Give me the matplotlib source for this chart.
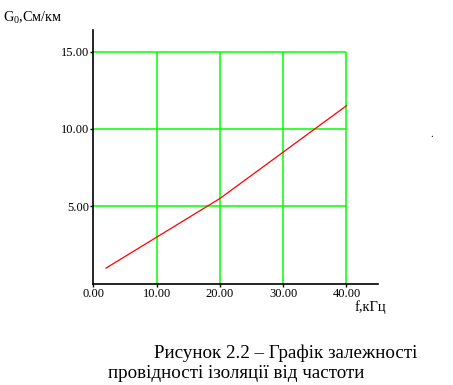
import numpy as np
import matplotlib.pyplot as plt

plt.rcParams['font.family'] = ['Liberation Serif', 'DejaVu Serif']
plt.rcParams['mathtext.fontset'] = 'custom'
plt.rcParams['mathtext.rm'] = 'Liberation Serif'
plt.rcParams['mathtext.it'] = 'Liberation Serif'

# data
f_khz = [2, 10, 20, 30, 40]
g0 = [1.0, 3.0, 5.5, 8.5, 11.5]
x_ticks = [0, 10, 20, 30, 40]
y_ticks = [5, 10, 15]

fig = plt.figure(figsize=(4.53, 3.85), dpi=100)
ax = fig.add_axes([0.206, 0.2634, 0.6285, 0.6587])

# green grid box
ax.vlines(x_ticks[1:], 0, max(y_ticks), color='#00ff00', lw=1.1, zorder=1)
ax.hlines(y_ticks, 0, max(x_ticks), color='#00ff00', lw=1.1, zorder=1)

ax.plot(f_khz, g0, color='#ff0000', lw=0.9, zorder=2)

ax.set_xlim(0, 45)
ax.set_ylim(0, 16.4)
ax.set_xticks(x_ticks)
ax.set_xticklabels(['%.2f' % v for v in x_ticks])
ax.set_yticks(y_ticks)
ax.set_yticklabels(['%.2f' % v for v in y_ticks])
ax.tick_params(length=2, width=1, labelsize=9, pad=1)
for s in ['top', 'right']:
    ax.spines[s].set_visible(False)
for s in ['left', 'bottom']:
    ax.spines[s].set_linewidth(1.2)

fig.text(3 / 453, 1 - 22 / 385, 'G$_0$,См/км', fontsize=10.3, va='baseline')
fig.text(355 / 453, 1 - 311 / 385, 'f,кГц', fontsize=10.5, va='baseline')
fig.text(430 / 453, 1 - 137 / 385, '.', fontsize=8, va='baseline')

fig.text(286 / 453, 1 - 358 / 385, 'Рисунок 2.2 – Графік залежності',
         fontsize=13.7, ha='center', va='baseline')
fig.text(236 / 453, 1 - 378 / 385, 'провідності ізоляції від частоти',
         fontsize=13.7, ha='center', va='baseline')

fig.savefig('out.png', dpi=100)
